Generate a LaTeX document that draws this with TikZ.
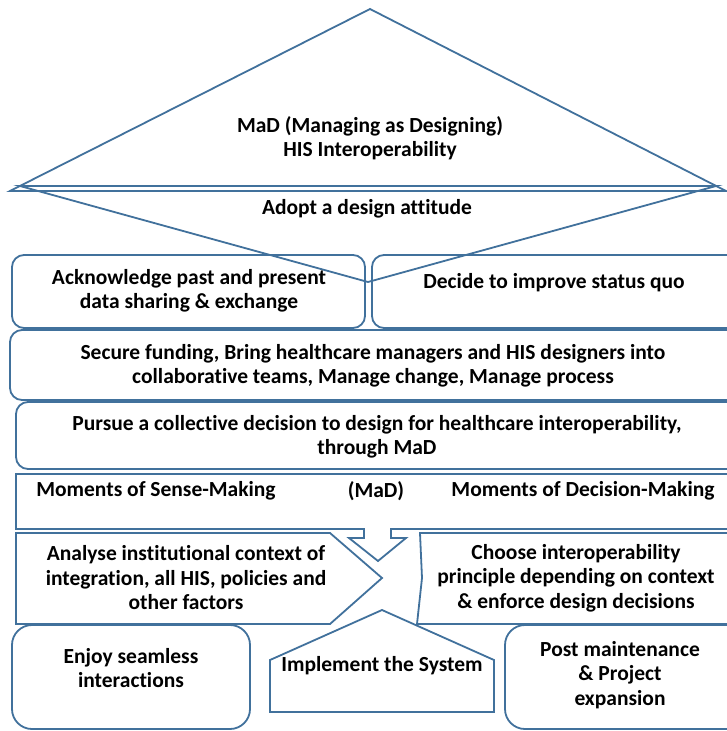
\documentclass[tikz,border=0pt]{standalone}
\usepackage{fontspec}
\setmainfont{Carlito}[Ligatures=NoCommon]
\definecolor{shapeblue}{RGB}{65,113,156}
\tikzset{
	outline/.style={draw=shapeblue, line width=1.8pt, line join=miter},
	boxtext/.style={font=\fontsize{21.5}{24.5}\selectfont\bfseries, align=center, inner sep=0pt}
}

\begin{document}
\begin{tikzpicture}[x=1pt, y=-1pt]
			%%%%% START %%%%%
			
			\useasboundingbox (0, 0) rectangle (727, 731);
			\clip (0, 0) rectangle (727, 731);
			\fill[white] (0, 0) rectangle (727, 731);
			
			\draw[outline, rounded corners=12pt] (12, 255) rectangle (365, 328);
			\draw[outline, rounded corners=12pt] (372, 255) rectangle (745, 328);
			\draw[outline, rounded corners=12pt] (10, 330) rectangle (745, 400);
			\draw[outline, rounded corners=12pt] (16, 402) rectangle (745, 469);
			
			\draw[outline] (370, 9) -- (726, 191) -- (10, 191) -- cycle;
			\draw[outline] (20, 186) -- (716, 186) -- (368, 282) -- cycle;
			
			\draw[outline] (16, 474) -- (745, 474) -- (745, 529) -- (391, 529) -- (391, 538) -- (406, 538)
				-- (378, 561) -- (349, 538) -- (364, 538) -- (364, 529) -- (16, 529) -- cycle;
			
			\draw[outline] (16, 533) -- (330, 533) -- (382, 578) -- (330, 624) -- (16, 624) -- cycle;
			\draw[outline] (420, 533) -- (745, 533) -- (745, 624) -- (417, 624) -- (422, 578) -- cycle;
			
			\draw[outline, rounded corners=20pt] (12, 625) rectangle (250, 729);
			\draw[outline] (382, 610) -- (494, 660) -- (494, 712) -- (270, 712) -- (270, 660) -- cycle;
			\draw[outline, rounded corners=20pt] (505, 625) rectangle (770, 729);
			
			\node[boxtext] (title) at (370, 138) {MaD (Managing as Designing)\\HIS Interoperability};
			\node[boxtext] (attitude) at (367, 209) {Adopt a design attitude};
			\node[boxtext] (acknowledge) at (189, 291) {Acknowledge past and present\\data sharing \& exchange};
			\node[boxtext] (decide) at (554, 283) {Decide to improve status quo};
			\node[boxtext] (funding) at (373, 366) {Secure funding, Bring healthcare managers and HIS designers into\\collaborative teams, Manage change, Manage process};
			\node[boxtext] (pursue) at (377, 437) {Pursue a collective decision to design for healthcare interoperability,\\through MaD};
			\node[boxtext] (sensemaking) at (156, 491) {Moments of Sense-Making};
			\node[boxtext] (mad) at (376, 491) {(MaD)};
			\node[boxtext] (decisionmaking) at (583, 491) {Moments of Decision-Making};
			\node[boxtext] (analyse) at (186, 578) {Analyse institutional context of\\integration, all HIS, policies and\\other factors};
			\node[boxtext] (choose) at (576, 578) {Choose interoperability\\principle depending on context\\\& enforce design decisions};
			\node[boxtext] (enjoy) at (131, 668) {Enjoy seamless\\interactions};
			\node[boxtext] (implement) at (382, 666) {Implement the System};
			\node[boxtext] (postmaint) at (620, 675) {Post maintenance\\\& Project\\expansion};
			
			%%%%% END %%%%%
\end{tikzpicture}
\end{document}
